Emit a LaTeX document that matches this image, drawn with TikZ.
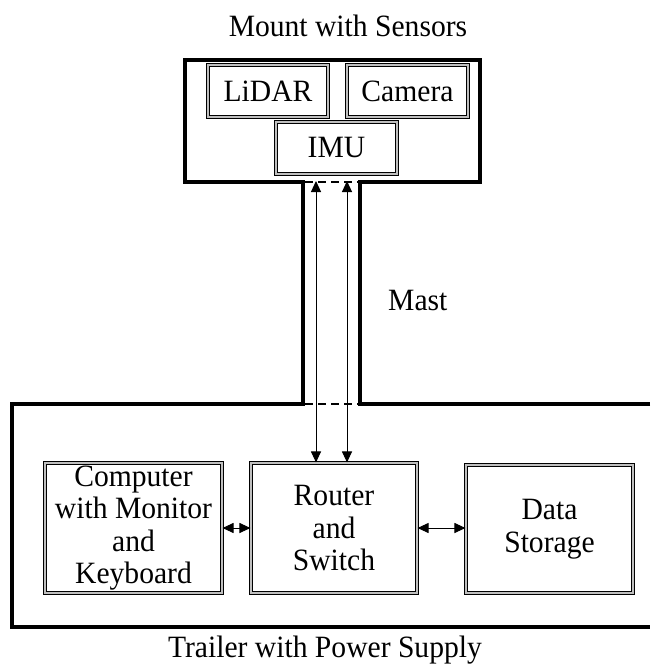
\documentclass[tikz,border=0pt]{standalone}
\usepackage{fontspec}
\setmainfont{Liberation Serif}[FakeStretch=0.955]
\usetikzlibrary{arrows.meta}
\tikzset{
  dbox/.style={draw=black, double=gray!50, double distance=1.1pt, line width=1.1pt,
    inner sep=0pt, align=center, font=\fontsize{31}{32.5}\selectfont},
  thickwall/.style={line width=3.8pt, line join=miter},
  mastdash/.style={line width=1.6pt, dash pattern=on 8pt off 5pt},
  conn/.style={line width=1pt, {Triangle[length=11pt,width=10pt]}-{Triangle[length=11pt,width=10pt]}},
  lbl/.style={font=\fontsize{31}{32.5}\selectfont, inner sep=0pt}
}
\begin{document}
\begin{tikzpicture}[x=1pt,y=-1pt]
\useasboundingbox (0,0) rectangle (650,671);
% outline of mount, mast and trailer
\draw[thickwall] (650,404) -- (360,404) -- (360,182) -- (480,182) -- (480,60) -- (185,60) -- (185,182) -- (303,182) -- (303,404) -- (12,404) -- (12,627) -- (650,627);
% dashed openings
\draw[mastdash] (305,182) -- (358,182);
\draw[mastdash] (305,404) -- (358,404);
% sensor boxes
\node[dbox, minimum width=120pt, minimum height=52pt] (lidar) at (268,91) {LiDAR};
\node[dbox, minimum width=121pt, minimum height=52pt] (camera) at (407.5,91) {Camera};
\node[dbox, minimum width=121pt, minimum height=52pt] (imu) at (336.5,148) {IMU};
% trailer boxes
\node[dbox, minimum width=177pt, minimum height=130pt] (comp) at (133.5,528) {Computer\\with Monitor\\and\\Keyboard};
\node[dbox, minimum width=166pt, minimum height=130pt] (router) at (334,528) {Router\\and\\Switch};
\node[dbox, minimum width=167pt, minimum height=128pt] (data) at (549.5,529) {Data\\Storage};
% labels
\node[lbl] (mountlbl) at (348,26) {Mount with Sensors};
\node[lbl, anchor=west] (mastlbl) at (388,300) {Mast};
\node[lbl] (trailerlbl) at (325,650) {Trailer with Power Supply};
% connectors
\coordinate (m1) at (316,181);
\coordinate (m2) at (347,181);
\draw[conn] (m1) -- (m1 |- router.north);
\draw[conn] (m2) -- (m2 |- router.north);
\draw[conn] (comp.east) -- (router.west);
\draw[conn] (router.east) -- (data.west |- router.east);
\end{tikzpicture}
\end{document}
